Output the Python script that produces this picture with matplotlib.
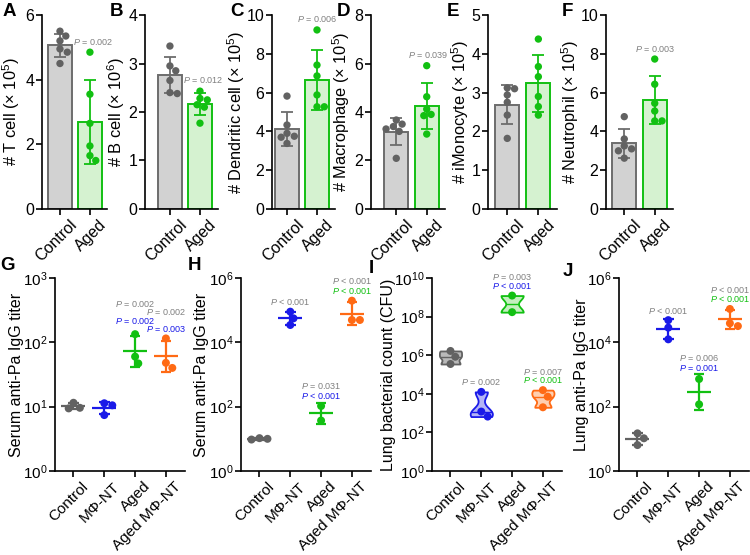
import numpy as np
import matplotlib
matplotlib.use('Agg')
import matplotlib.pyplot as plt
import matplotlib.transforms as mtrans
from matplotlib.ticker import FixedLocator, NullLocator, FuncFormatter

plt.rcParams['font.family'] = ['Liberation Sans', 'DejaVu Sans']
plt.rcParams['mathtext.fontset'] = 'custom'
plt.rcParams['mathtext.rm'] = 'Liberation Sans'
plt.rcParams['mathtext.it'] = 'Liberation Sans:italic'
plt.rcParams['mathtext.bf'] = 'Liberation Sans:bold'
plt.rcParams['axes.linewidth'] = 1.2
plt.rcParams['xtick.major.width'] = 1.2
plt.rcParams['ytick.major.width'] = 1.2
plt.rcParams['xtick.major.size'] = 4
plt.rcParams['ytick.major.size'] = 4
plt.rcParams['xtick.major.pad'] = 2
plt.rcParams['ytick.major.pad'] = 1.5

# ---------------- data ----------------
groups2 = ['Control', 'Aged']
groups4 = ['Control', 'MΦ-NT', 'Aged', 'Aged MΦ-NT']

tcell_control = [5.5, 5.35, 5.2, 4.95, 4.85, 4.5]
tcell_aged = [4.85, 3.55, 2.65, 1.95, 1.65, 1.5]
bcell_control = [3.36, 2.95, 2.85, 2.65, 2.40, 2.38]
bcell_aged = [2.43, 2.28, 2.25, 2.15, 2.10, 1.77]
dc_control = [5.82, 4.33, 3.9, 3.75, 3.7, 3.38]
dc_aged = [9.23, 7.42, 6.86, 5.88, 5.27, 5.27]
mac_control = [3.67, 3.5, 3.4, 3.3, 3.2, 2.09]
mac_aged = [5.91, 4.63, 4.12, 3.9, 3.85, 3.09]
mono_control = [3.12, 3.10, 2.94, 2.75, 2.42, 1.82]
mono_aged = [4.38, 3.67, 3.41, 2.9, 2.64, 2.42]
neut_control = [4.76, 3.61, 3.25, 3.1, 3.0, 2.62]
neut_aged = [7.73, 6.43, 5.45, 5.05, 4.54, 4.54]

serum_iv_control = [9.4, 11.5, 9.6]
serum_iv_mnt = [7.4, 10.5, 11.3]
serum_iv_aged = [134, 47, 60]
serum_iv_aged_mnt = [115, 40, 48]

serum_in_control = [9.5, 10.5, 10.0]
serum_in_mnt = [89800, 34600, 55700]
serum_in_aged = [105, 37]
serum_in_aged_mnt = [197000, 49500, 49500]

cfu_control = [1.66e6, 8.3e5, 3.5e5]
cfu_mnt = [1.26e4, 1.2e3, 6.6e2]
cfu_aged = [1.23e9, 1.7e8]
cfu_aged_mnt = [1.55e4, 7.1e3, 2.0e3]

lung_control = [6.4, 14.8, 10.4]
lung_mnt = [49000, 28600, 12400]
lung_aged = [724, 118]
lung_aged_mnt = [109000, 32000, 39000]

# ---------------- style ----------------
GRAY_DOT = '#626262'
GRAY_EDGE = '#6d6d6d'
GRAY_FILL = '#d2d2d2'
GREEN = '#12c012'
GREEN_FILL = '#d5f2d0'
BLUE = '#1a1ae8'
ORANGE = '#ff6a14'
PGRAY = '#808080'
col4 = [GRAY_DOT, BLUE, GREEN, ORANGE]
fill4 = ['#b9b9b9', '#b4b4f6', '#c4efbf', '#ffcfb0']

W, H = 750, 555
fig = plt.figure(figsize=(7.5, 5.55), dpi=100)


def add_ax(l, t, r, b):
    ax = fig.add_axes([l / W, 1 - b / H, (r - l) / W, (b - t) / H])
    ax.spines['top'].set_visible(False)
    ax.spines['right'].set_visible(False)
    return ax


def swarm(ax, xc, vals, diam):
    vals = np.asarray(vals, float)
    T = ax.transData
    ypx = T.transform(np.column_stack([np.full(len(vals), xc), vals]))[:, 1]
    x0 = T.transform((xc, vals[0]))[0]
    ppu = T.transform((xc + 1, vals[0]))[0] - x0
    placed = []
    offs = np.zeros(len(vals))
    step = diam * 0.2
    for i in np.argsort(-vals):
        cand = 0.0
        for k in range(80):
            cand = 0.0 if k == 0 else ((k + 1) // 2) * step * (1 if k % 2 else -1)
            if all((cand - px) ** 2 + (ypx[i] - py) ** 2 >= (diam * 0.92) ** 2 for px, py in placed):
                break
        placed.append((cand, ypx[i]))
        offs[i] = cand / ppu
    return xc + offs


def shift_xlabels(ax, dx_px, dy_px):
    off = mtrans.ScaledTranslation(dx_px / 100, dy_px / 100, fig.dpi_scale_trans)
    for lab in ax.get_xticklabels():
        lab.set_transform(lab.get_transform() + off)


def set_ylabel_px(ax, text, right_px, size):
    ax.set_ylabel(text, fontsize=size)
    bb = ax.get_position()
    ax.yaxis.set_label_coords(right_px / W, bb.y0 + bb.height / 2, transform=fig.transFigure)


def bar_panel(box, xlim, ctrl, aged, ymax, ystep, ylabel, lab_px, ptxt=None):
    ax = add_ax(*box)
    ax.set_xlim(*xlim)
    ax.set_ylim(0, ymax)
    data = [np.asarray(ctrl, float), np.asarray(aged, float)]
    x = np.arange(2)
    means = [d.mean() for d in data]
    sds = [d.std(ddof=1) for d in data]
    ax.bar(x, means, width=0.78, color=[GRAY_FILL, GREEN_FILL],
           edgecolor=[GRAY_EDGE, GREEN], linewidth=1.4, zorder=1)
    for xi, m, s, c in zip(x, means, sds, [GRAY_EDGE, GREEN]):
        ax.errorbar(xi, m, yerr=s, fmt='none', ecolor=c, elinewidth=1.3,
                    capsize=4.2, capthick=1.3, zorder=2)
    for xi, d, c in zip(x, data, [GRAY_DOT, GREEN]):
        xs = swarm(ax, xi, d, 7.3)
        ax.scatter(xs, d, s=28, color=c, edgecolor='none', zorder=3, clip_on=False)
    ax.set_yticks(np.arange(0, ymax + 1e-9, ystep))
    ax.yaxis.set_major_formatter(FuncFormatter(lambda v, p: '%d' % round(v)))
    ax.set_xticks(x)
    ax.set_xticklabels(groups2, rotation=45, ha='right', va='top', rotation_mode='anchor')
    ax.tick_params(labelsize=11.5)
    shift_xlabels(ax, 9, 0)
    set_ylabel_px(ax, ylabel, lab_px, 11.8)
    if ptxt:
        px, py, t = ptxt
        ax.text(px, py, t, fontsize=6.5, color=PGRAY, ha='center', va='center', clip_on=False)
    return ax


def finish_bottom(ax, ylabel, lab_px, ptexts):
    ax.set_xlim(-0.6, 3.62)
    ax.set_xticks(range(4))
    ax.set_xticklabels(groups4, rotation=45, ha='right', va='top', rotation_mode='anchor')
    ax.tick_params(labelsize=11)
    shift_xlabels(ax, 8, 0)
    set_ylabel_px(ax, ylabel, lab_px, 11.5)
    for (px, py, t, c) in ptexts:
        ax.text(px, py, t, fontsize=6.5, color=c, ha='center', va='center', clip_on=False)


def titer_panel(box, data_list, emax, estep, ylabel, lab_px, ptexts):
    ax = add_ax(*box)
    ax.set_yscale('log')
    ax.set_xlim(-0.6, 3.62)
    ax.set_ylim(1, 10.0 ** emax)
    ax.yaxis.set_major_locator(FixedLocator(10.0 ** np.arange(0, emax + 1, estep)))
    ax.yaxis.set_minor_locator(NullLocator())
    ax.yaxis.set_major_formatter(FuncFormatter(lambda v, p: r'$10^{%d}$' % round(np.log10(v))))
    for i, (d, c) in enumerate(zip(data_list, col4)):
        lg = np.log10(np.asarray(d, float))
        m = lg.mean()
        s = lg.std(ddof=1)
        lo, hi = 10 ** (m - s), 10 ** (m + s)
        ax.hlines(10 ** m, i - 0.39, i + 0.39, color=c, lw=1.6, zorder=2)
        ax.vlines(i, lo, hi, color=c, lw=1.6, zorder=2)
        ax.hlines([lo, hi], i - 0.17, i + 0.17, color=c, lw=1.6, zorder=2)
        xs = swarm(ax, i, d, 8)
        ax.scatter(xs, d, s=33, color=c, edgecolor='none', zorder=3, clip_on=False)
    ptx = [(x, 10.0 ** e, t, c) for (x, e, t, c) in ptexts]
    finish_bottom(ax, ylabel, lab_px, ptx)
    return ax


def violin_panel(box, data_list, ylabel, lab_px, ptexts):
    ax = add_ax(*box)
    ax.set_xlim(-0.6, 3.62)
    ax.set_ylim(0, 10)
    lgs = [np.log10(np.asarray(d, float)) for d in data_list]
    vp = ax.violinplot(lgs, positions=range(4), widths=0.72, showextrema=False,
                       bw_method=0.45)
    for i, (body, c, f) in enumerate(zip(vp['bodies'], col4, fill4)):
        body.set_facecolor(f)
        body.set_edgecolor(c)
        body.set_alpha(1)
        body.set_linewidth(1.3)
        body.set_zorder(1)
        v = body.get_paths()[0].vertices
        r = v[v[:, 0] > i]
        o = np.argsort(r[:, 1])
        med = np.median(lgs[i])
        hw = np.interp(med, r[o, 1], r[o, 0]) - i
        ax.hlines(med, i - hw, i + hw, color=c, lw=1.0, zorder=2)
    for i, (lg, c) in enumerate(zip(lgs, col4)):
        xs = swarm(ax, i, lg, 8)
        ax.scatter(xs, lg, s=33, color=c, edgecolor='none', zorder=3, clip_on=False)
    ax.set_yticks(range(0, 11, 2))
    ax.set_yticklabels([r'$10^{%d}$' % e for e in range(0, 11, 2)])
    finish_bottom(ax, ylabel, lab_px, ptexts)
    return ax


P = r'$\mathit{P}$'

# ---------------- top row ----------------
bar_panel((42, 15, 107, 209), (-0.6, 1.57), tcell_control, tcell_aged, 6, 2,
          r'# T cell (× $10^{5}$)', 22, (1.1, 5.16, P + ' = 0.002'))
bar_panel((145, 15, 218, 209), (-0.83, 1.6), bcell_control, bcell_aged, 4, 1,
          r'# B cell (× $10^{6}$)', 127, (1.1, 2.66, P + ' = 0.012'))
bar_panel((272, 15, 335, 209), (-0.5, 1.6), dc_control, dc_aged, 10, 2,
          r'# Dendritic cell (× $10^{5}$)', 247, (1.0, 9.8, P + ' = 0.006'))
bar_panel((371, 15, 445, 209), (-0.83, 1.6), mac_control, mac_aged, 8, 2,
          r'# Macrophage (× $10^{5}$)', 352, (1.04, 6.35, P + ' = 0.039'))
bar_panel((488, 15, 557, 209), (-0.62, 1.6), mono_control, mono_aged, 5, 1,
          r'# iMonocyte (× $10^{5}$)', 471, None)
bar_panel((606, 15, 673, 209), (-0.6, 1.6), neut_control, neut_aged, 10, 2,
          r'# Neutrophil (× $10^{5}$)', 581, (1.0, 8.25, P + ' = 0.003'))

# ---------------- bottom row ----------------
titer_panel((55, 278, 185, 471),
            [serum_iv_control, serum_iv_mnt, serum_iv_aged, serum_iv_aged_mnt], 3, 1,
            'Serum anti-Pa IgG titer', 24,
            [(2, 2.596, P + ' = 0.002', PGRAY), (2, 2.33, P + ' = 0.002', BLUE),
             (3, 2.47, P + ' = 0.002', PGRAY), (3, 2.21, P + ' = 0.003', BLUE)])
titer_panel((241, 278, 371, 471),
            [serum_in_control, serum_in_mnt, serum_in_aged, serum_in_aged_mnt], 6, 2,
            'Serum anti-Pa IgG titer', 209,
            [(1, 5.25, P + ' < 0.001', PGRAY),
             (3, 5.9, P + ' < 0.001', PGRAY), (3, 5.6, P + ' < 0.001', GREEN),
             (2, 2.64, P + ' = 0.031', PGRAY), (2, 2.33, P + ' < 0.001', BLUE)])
violin_panel((432, 278, 562, 471),
             [cfu_control, cfu_mnt, cfu_aged, cfu_aged_mnt],
             'Lung bacterial count (CFU)', 396,
             [(2, 10.05, P + ' = 0.003', PGRAY), (2, 9.59, P + ' < 0.001', BLUE),
              (1, 4.59, P + ' = 0.002', PGRAY),
              (3, 5.15, P + ' = 0.007', PGRAY), (3, 4.69, P + ' < 0.001', GREEN)])
titer_panel((619, 278, 749, 471),
            [lung_control, lung_mnt, lung_aged, lung_aged_mnt], 6, 2,
            'Lung anti-Pa IgG titer', 589,
            [(1, 4.97, P + ' < 0.001', PGRAY),
             (3, 5.63, P + ' < 0.001', PGRAY), (3, 5.35, P + ' < 0.001', GREEN),
             (2, 3.51, P + ' = 0.006', PGRAY), (2, 3.2, P + ' = 0.001', BLUE)])

# ---------------- panel letters ----------------
for lt, x, y in [('A', 3, 3), ('B', 110, 3), ('C', 230, 3), ('D', 337, 3), ('E', 447, 3),
                 ('F', 562, 3), ('G', 0, 257), ('H', 188, 257), ('I', 369, 260),
                 ('J', 563, 263)]:
    fig.text(x / W, 1 - y / H, lt, fontsize=13.5, fontweight='bold', ha='left', va='top')

fig.savefig('out.png', dpi=100)
